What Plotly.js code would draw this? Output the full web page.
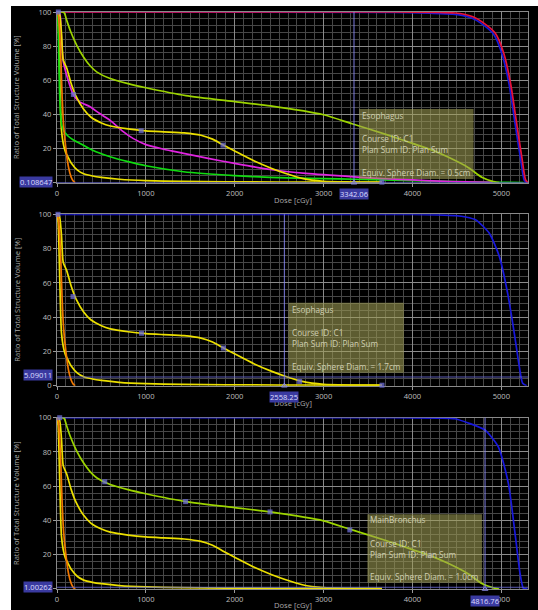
<!DOCTYPE html>
<html><head><meta charset="utf-8">
<script src="https://cdn.plot.ly/plotly-3.0.1.min.js"></script>
<style>
html,body{margin:0;padding:0;background:#ffffff;}
#chart{position:absolute;left:11px;top:6px;width:527px;height:604px;}
</style></head><body><div id="chart"></div>
<script>
// ---------------- data ----------------
const xTicks = [0, 1000, 2000, 3000, 4000, 5000];
const yTicks = [0, 20, 40, 60, 80, 100];
// the "0" volume tick is hidden behind the cursor value box in panels 1 and 3
const yTickTextPanels = [
  ['', '20', '40', '60', '80', '100'],
  ['0', '20', '40', '60', '80', '100'],
  ['', '20', '40', '60', '80', '100']
];

// shared low-dose structures
const orangeDose = [0, 15, 30, 45, 58, 75, 100, 130, 160, 185, 205];
const orangeVol  = [100, 98, 88, 70, 50, 33, 20, 9, 3.2, 0.8, 0];

const lowYelDose = [0, 12, 25, 38, 50, 70, 95, 124, 160, 230, 300, 400, 500, 700, 1000, 1400, 1900, 2500, 3100, 3657];
const lowYelVol  = [100, 96, 75, 48, 31, 23, 18, 15, 11.5, 7.3, 5.2, 3.9, 3.1, 2.0, 1.2, 0.8, 0.55, 0.4, 0.3, 0.2];

const esoDose = [0, 25, 50, 70, 110, 160, 215, 300, 380, 500, 600, 800, 1000, 1200, 1430, 1620, 1750, 1860, 2020, 2220, 2410, 2575, 2760, 3000, 3300, 3657];
const esoVol  = [100, 99.5, 88, 72, 67, 58, 50.5, 43, 38.5, 35, 33.2, 31.5, 30.4, 29.8, 29.2, 27.8, 25.5, 22.4, 18, 12.7, 8.5, 5.4, 2.5, 0.8, 0.4, 0.3];

const bronchDose = [0, 55, 82, 110, 150, 222, 300, 372, 450, 598, 800, 1000, 1450, 2000, 2400, 3000, 3320, 3700, 4000, 4200, 4400, 4630, 4780, 4900, 4975];
const bronchVol  = [100, 100, 99.5, 95, 89, 80.5, 73.5, 68.5, 64.8, 61, 58, 55.6, 51, 47.5, 45, 39.8, 34.5, 28.3, 23, 19.5, 15, 8.8, 3.2, 0.8, 0];

// panel 1 only
const magentaDose = [0, 30, 45, 58, 71, 120, 184, 250, 372, 480, 598, 730, 860, 1000, 1200, 1424, 1700, 2000, 2400, 2800, 3342, 3700, 4000, 4300, 4600, 4900];
const magentaVol  = [100, 99.5, 90, 78, 71, 61, 51.5, 47.5, 44.5, 40.5, 36.5, 30.5, 25.8, 22.3, 19.6, 17.2, 14.2, 11.3, 7.7, 5.4, 3.4, 2.3, 1.6, 0.9, 0.5, 0.2];

const greenDose = [0, 8, 18, 28, 40, 55, 71, 120, 180, 259, 400, 598, 800, 1000, 1424, 2000, 2400, 3000, 3342, 4000, 4500, 5000, 5250];
const greenVol  = [100, 98, 80, 55, 40, 33.5, 30.8, 27.5, 25.2, 23, 19, 15.2, 12.3, 9.9, 6.4, 4.1, 3.1, 2.4, 2.0, 1.2, 0.6, 0.2, 0];

const redDose = [0, 3800, 4300, 4480, 4580, 4680, 4783, 4934, 5028, 5104, 5178, 5235, 5273, 5300];
const redVol  = [100, 100, 99.8, 99.4, 98.7, 97.2, 94.2, 87.4, 75.7, 58.1, 32.7, 13.3, 1.6, 0];

const blue1Dose = [0, 3800, 4200, 4450, 4560, 4660, 4765, 4915, 5010, 5088, 5162, 5220, 5258, 5290];
const blue1Vol  = [100, 99.8, 99.3, 98.8, 98, 96.6, 93.6, 86.8, 75, 57.5, 32, 12.8, 1.4, 0];

// panel 2 / 3 target curves
const blue2Dose = [0, 3800, 4300, 4490, 4600, 4714, 4865, 4978, 5071, 5146, 5202, 5240, 5285];
const blue2Vol  = [100, 100, 99.7, 99.2, 98.4, 96.7, 88.9, 75.3, 53.9, 30.6, 11.1, 1.4, 0];
const blue3Dose = [0, 3800, 4300, 4478, 4628, 4816, 4966, 5079, 5154, 5210, 5248, 5295];
const blue3Vol  = [100, 100, 99.8, 99.4, 96.9, 92.8, 83, 61.7, 32.5, 9.2, 0.4, 0];

// point markers on curves
const mark1Dose = [15, 184, 947, 1868, 3656];
const mark1Vol  = [100, 51.7, 30.4, 22, 0.3];
const mark2Dose = [11, 180, 951, 1873, 2730, 3657];
const mark2Vol  = [100, 52, 30.6, 22, 2.5, 0.3];
const mark3Dose = [30, 537, 1447, 2397, 3295, 4196];
const mark3Vol  = [100, 62.6, 51, 45, 34.5, 19.5];

// cursors
const cursorDose = [3342.06, 2558.25, 4816.76];
const cursorVol  = [0.108647, 5.09011, 1.00262];
const cursorDoseLabels = ['3342.06', '2558.25', '4816.76'];
const cursorVolLabels  = ['0.108647', '5.09011', '1.00262'];

// info boxes
const structNames = ['Esophagus', 'Esophagus', 'MainBronchus'];
const courseIds   = ['C1', 'C1', 'C1'];
const planSums    = ['Plan Sum', 'Plan Sum', 'Plan Sum'];
const sphereDiams = ['0.5cm', '1.7cm', '1.0cm'];

// ---------------- drawing ----------------
const FONT = 'Open Sans, Noto Sans, sans-serif';
const C = {red:'#e8103a', blue:'#1818dc', yg:'#9cd400', yel:'#ece000', orange:'#f07800', green:'#10dc10', magenta:'#e024e0'};
const axSuffix = ['', '2', '3'];

function curve(xs, ys, color, p) {
  return {type:'scatter', mode:'lines', x:xs, y:ys, xaxis:'x'+axSuffix[p], yaxis:'y'+axSuffix[p],
    line:{color:color, width:1.7, shape:'spline', smoothing:0.6}, hoverinfo:'skip', showlegend:false};
}
function marks(xs, ys, p) {
  return {type:'scatter', mode:'markers', x:xs, y:ys, xaxis:'x'+axSuffix[p], yaxis:'y'+axSuffix[p],
    marker:{symbol:'square', size:5, color:'rgba(110,110,215,0.75)'}, hoverinfo:'skip', showlegend:false, cliponaxis:false};
}
function caret(p) {
  return {type:'scatter', mode:'markers', x:[cursorDose[p]], y:[0], xaxis:'x'+axSuffix[p], yaxis:'y'+axSuffix[p],
    marker:{symbol:'triangle-up-open', size:5, color:'#8c8ce8', line:{width:1, color:'#8c8ce8'}}, hoverinfo:'skip', showlegend:false, cliponaxis:false};
}

const data = [
  // panel 1
  curve(blue1Dose, blue1Vol, C.blue, 0),
  curve(redDose, redVol, C.red, 0),
  curve(lowYelDose, lowYelVol, C.yel, 0),
  curve(greenDose, greenVol, C.green, 0),
  curve(magentaDose, magentaVol, C.magenta, 0),
  curve(esoDose, esoVol, C.yel, 0),
  curve(bronchDose, bronchVol, C.yg, 0),
  curve(orangeDose, orangeVol, C.orange, 0),
  marks(mark1Dose, mark1Vol, 0), caret(0),
  // panel 2
  curve(blue2Dose, blue2Vol, C.blue, 1),
  curve(lowYelDose, lowYelVol, C.yel, 1),
  curve(esoDose, esoVol, C.yel, 1),
  curve(orangeDose, orangeVol, C.orange, 1),
  marks(mark2Dose, mark2Vol, 1), caret(1),
  // panel 3
  curve(blue3Dose, blue3Vol, C.blue, 2),
  curve(lowYelDose, lowYelVol, C.yel, 2),
  curve(esoDose, esoVol, C.yel, 2),
  curve(bronchDose, bronchVol, C.yg, 2),
  curve(orangeDose, orangeVol, C.orange, 2),
  marks(mark3Dose, mark3Vol, 2), caret(2)
];

const tickFont = {family:FONT, size:7.6, color:'#bdbdbd'};
function xax(anchor) {
  return {domain:[0,1], anchor:anchor, range:[0,5300], tickvals:xTicks, ticktext:xTicks.map(String),
    showgrid:true, gridcolor:'#8a8a8a', gridwidth:1,
    minor:{dtick:100, tick0:0, showgrid:true, gridcolor:'#474747', gridwidth:1},
    ticks:'outside', ticklen:3, tickcolor:'#9a9a9a', showline:true, linecolor:'#8a8a8a', mirror:true,
    zeroline:false, tickfont:tickFont, fixedrange:true, layer:'below traces'};
}
function yax(anchor, dom, p) {
  return {domain:dom, anchor:anchor, range:[0,100], tickvals:yTicks, ticktext:yTickTextPanels[p],
    showgrid:true, gridcolor:'#8a8a8a', gridwidth:1,
    minor:{dtick:4, tick0:0, showgrid:true, gridcolor:'#474747', gridwidth:1},
    ticks:'outside', ticklen:3, tickcolor:'#9a9a9a', showline:true, linecolor:'#8a8a8a', mirror:true,
    zeroline:false, tickfont:tickFont, fixedrange:true, layer:'below traces'};
}

const domains = [[0.7042, 1], [0.3523, 0.6494], [0, 0.2969]];
const boxes = [
  {x0:3401, x1:4687, y0:2.2, y1:43.1, lines:[39.2, 26.0, 19.3, 5.85]},
  {x0:2605, x1:3903, y0:7.6, y1:48.4, lines:[44.6, 31.3, 24.7, 11.4]},
  {x0:3493, x1:4782, y0:3.7, y1:43.6, lines:[40.3, 26.7, 20.3, 7.2]}
];
const titleShift = [-17, -17.5, -15.5];
const volBoxShift = [0, 1.8, 0];
const doseBoxShift = [-5.5, -5, -5.5];

const shapes = [];
const annotations = [];
for (let p = 0; p < 3; p++) {
  const s = axSuffix[p];
  const xr = 'x' + s, yr = 'y' + s;
  // cursor lines
  shapes.push({type:'line', xref:xr, yref:yr+' domain', x0:cursorDose[p], x1:cursorDose[p], y0:0, y1:1,
    line:{color:'rgba(135,135,245,0.9)', width:1}, layer:'above'});
  shapes.push({type:'line', xref:xr+' domain', yref:yr, x0:0, x1:1, y0:cursorVol[p], y1:cursorVol[p],
    line:{color:'rgba(105,105,210,0.85)', width:1}, layer:'above'});
  // info box
  const b = boxes[p];
  shapes.push({type:'rect', xref:xr, yref:yr, x0:b.x0, x1:b.x1, y0:b.y0, y1:b.y1,
    line:{width:0}, fillcolor:'rgba(160,158,85,0.58)', layer:'above'});
  const txt = [structNames[p], 'Course ID: ' + courseIds[p], 'Plan Sum ID: ' + planSums[p], 'Equiv. Sphere Diam. = ' + sphereDiams[p]];
  for (let i = 0; i < 4; i++) {
    annotations.push({xref:xr, yref:yr, x:b.x0, y:b.lines[i], xanchor:'left', yanchor:'middle', xshift:1,
      text:txt[i], showarrow:false, font:{family:FONT, size:8.2, color:'#cfcfb2'}});
  }
  // axis titles
  annotations.push({xref:'paper', yref:yr+' domain', x:0, y:0.5, xshift:-40.3, xanchor:'center', yanchor:'middle',
    textangle:-90, text:'Ratio of Total Structure Volume [%]', showarrow:false, font:{family:FONT, size:7.6, color:'#a8a8a8'}});
  annotations.push({xref:'paper', yref:yr+' domain', x:0.5, y:0, yshift:titleShift[p], xanchor:'center', yanchor:'middle',
    text:'Dose [cGy]', showarrow:false, font:{family:FONT, size:7.6, color:'#a8a8a8'}});
  // cursor value boxes
  annotations.push({xref:'paper', yref:yr, x:0, y:cursorVol[p], xshift:-4, yshift:volBoxShift[p], xanchor:'right', yanchor:'middle',
    text:cursorVolLabels[p], showarrow:false, bgcolor:'#3a3aa0', borderpad:0,
    font:{family:FONT, size:7.6, color:'#dcdcff'}});
  annotations.push({xref:xr, yref:yr+' domain', x:cursorDose[p], y:0, yshift:doseBoxShift[p], xanchor:'center', yanchor:'top',
    text:cursorDoseLabels[p], showarrow:false, bgcolor:'#3a3aa0', borderpad:0,
    font:{family:FONT, size:7.6, color:'#dcdcff'}});
}

const layout = {
  width:527, height:604,
  margin:{l:46, r:9.5, t:6, b:21, pad:0},
  paper_bgcolor:'#000000', plot_bgcolor:'#000000',
  showlegend:false,
  font:{family:FONT, size:7.6, color:'#bdbdbd'},
  xaxis:xax('y'), yaxis:yax('x', domains[0], 0),
  xaxis2:xax('y2'), yaxis2:yax('x2', domains[1], 1),
  xaxis3:xax('y3'), yaxis3:yax('x3', domains[2], 2),
  shapes:shapes, annotations:annotations
};

Plotly.newPlot('chart', data, layout, {displayModeBar:false, staticPlot:true});
</script></body></html>
